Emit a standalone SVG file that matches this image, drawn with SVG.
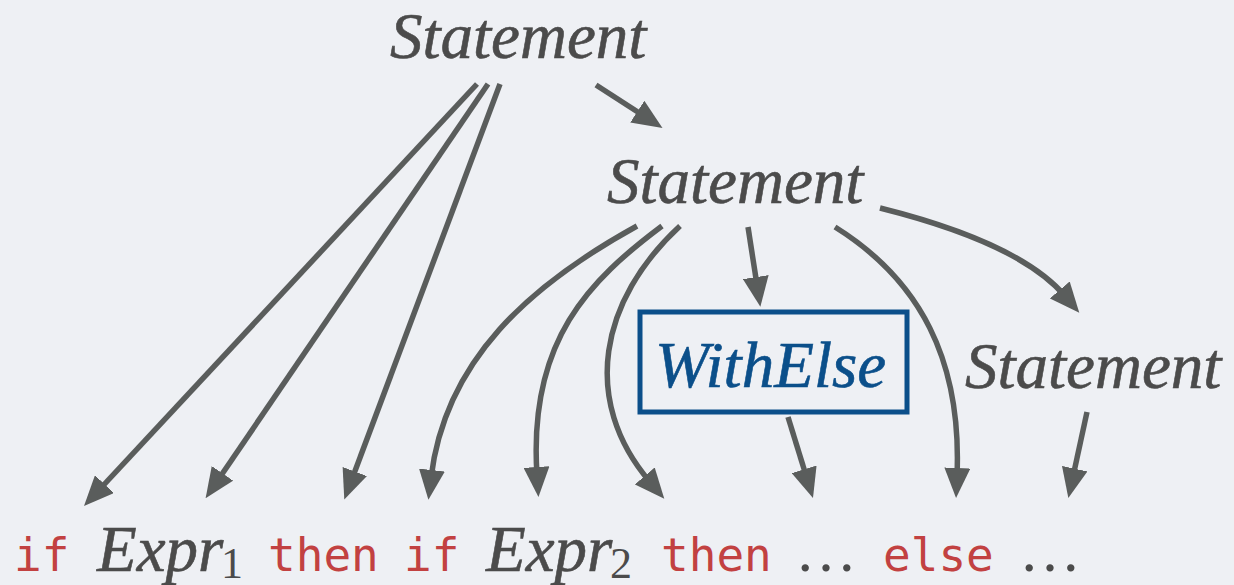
<svg xmlns="http://www.w3.org/2000/svg" width="1234" height="585" viewBox="0 0 1234 585">
  <defs>
    <marker id="arrow" viewBox="0 0 30 26" markerUnits="userSpaceOnUse" markerWidth="30" markerHeight="26" refX="8" refY="13" orient="auto">
      <path d="M0,0 L30,13 L0,26 Z" fill="#5a5d5c"/>
    </marker>
  </defs>
  <style>
    .nt { font-family: "Liberation Serif", "DejaVu Serif", serif; font-style: italic; font-size: 65px; fill: #4b4b4b; stroke: #4b4b4b; stroke-width: 0.6; }
    .sub { font-family: "Liberation Serif", "DejaVu Serif", serif; font-size: 44px; fill: #4b4b4b; }
    .kw { font-family: "DejaVu Sans Mono", "Liberation Mono", monospace; font-size: 46px; fill: #c24141; }
    .dots { font-family: "Liberation Serif", "DejaVu Serif", serif; font-size: 62px; fill: #4b4b4b; }
    .edge { fill: none; stroke: #5a5d5c; stroke-width: 5.5; marker-end: url(#arrow); }
    .box { fill: none; stroke: #0b4f8a; stroke-width: 5; }
    .boxlabel { fill: #0b4f8a; stroke: #0b4f8a; }
  </style>
  <rect width="1234" height="585" fill="#eef0f4"/>

  <g id="connectors">
    <!-- outer Statement -->
    <path class="edge" d="M477,84 L99,490"/>
    <path class="edge" d="M488,84 L218,480"/>
    <path class="edge" d="M500,84 L352,479"/>
    <path class="edge" d="M596,85 L644,116"/>
    <!-- inner Statement -->
    <path class="edge" d="M637,226 C530,285 445,360 431,478"/>
    <path class="edge" d="M662,226 C590,280 528,340 537,475"/>
    <path class="edge" d="M680,226 C600,300 580,400 650,482"/>
    <path class="edge" d="M748,227 L757,285"/>
    <path class="edge" d="M835,227 C920,280 962,360 957,476"/>
    <path class="edge" d="M880,208 C960,228 1030,255 1065,296"/>
    <!-- WithElse and trailing Statement -->
    <path class="edge" d="M788,417 L806.5,477"/>
    <path class="edge" d="M1087,412 L1073,476.5"/>
  </g>

  <g id="statement-outer">
    <text class="nt" x="390" y="58">Statement</text>
  </g>
  <g id="statement-inner">
    <text class="nt" x="607" y="203">Statement</text>
  </g>
  <g id="withelse">
    <rect class="box" x="640" y="312" width="267" height="100"/>
    <text class="nt boxlabel" x="655" y="387" font-size="64">WithElse</text>
  </g>
  <g id="statement-else">
    <text class="nt" x="965" y="388">Statement</text>
  </g>

  <g id="tokens">
    <text class="kw" x="14" y="571">if</text>
    <text class="nt" x="97" y="571">Expr</text>
    <text class="sub" x="221" y="578">1</text>
    <text class="kw" x="268" y="571">then</text>
    <text class="kw" x="404" y="571">if</text>
    <text class="nt" x="486" y="571">Expr</text>
    <text class="sub" x="610" y="578">2</text>
    <text class="kw" x="661" y="571">then</text>
    <text class="dots" x="795" y="571">…</text>
    <text class="kw" x="883" y="571">else</text>
    <text class="dots" x="1019" y="571">…</text>
  </g>
</svg>
